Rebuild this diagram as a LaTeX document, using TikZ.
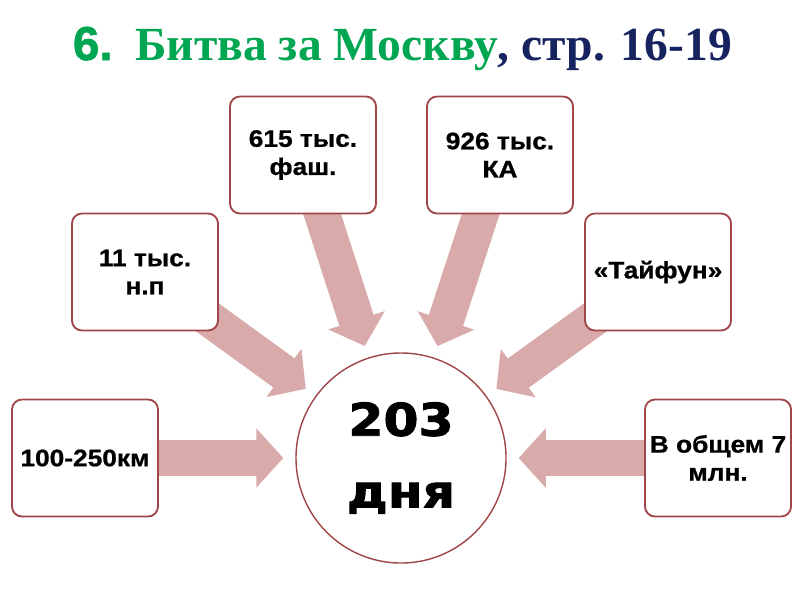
\documentclass[tikz,border=0pt]{standalone}
\usepackage{fontspec}
\setmainfont{Liberation Serif}
\newfontfamily\boxfont[FakeStretch=1.1,FakeBold=0.8]{Liberation Sans}
\newfontfamily\daysfont[FakeStretch=1.12,FakeBold=2]{DejaVu Sans}
\newfontfamily\numfont[FakeBold=1.5]{Liberation Sans}
\usetikzlibrary{arrows.meta,backgrounds}
\definecolor{boxred}{RGB}{160,70,72}
\definecolor{arrowpink}{RGB}{217,170,170}
\definecolor{titlegreen}{RGB}{0,166,81}
\definecolor{titlenavy}{RGB}{23,35,94}

\begin{document}
\begin{tikzpicture}[x=0.025cm, y=-0.025cm,
  box/.style={draw=boxred, line width=1.3pt, rounded corners=0.25cm, fill=white,
              minimum width=3.65cm, minimum height=2.925cm, align=center,
              font=\boxfont\bfseries\fontsize{17}{20}\selectfont},
  days/.style={circle, draw=boxred, line width=1pt, fill=white, minimum size=5.25cm,
               align=center, font=\daysfont\bfseries\fontsize{32}{51}\selectfont},
  bigarrow/.style={line width=0.9cm, draw=arrowpink,
                   -{Triangle[length=0.675cm, width=1.45cm]}, shorten >=0.3cm}
]
\useasboundingbox (0,0) rectangle (800,600);

\node[anchor=base west, font=\bfseries\fontsize{33.8}{38}\selectfont] (title) at (68,60)
  {\textcolor{titlegreen}{{\numfont 6.}\hspace{5pt} Битва за Москву}\textcolor{titlenavy}{, стр. 16-19}};

\node[days] (center) at (401,458) {203\\дня};

\node[box] (km)      at (85,458)  {100-250км};
\node[box] (towns)   at (145,272) {11 тыс.\\н.п};
\node[box] (enemy)   at (303,155) {615 тыс.\\фаш.};
\node[box] (army)    at (500,155) {926 тыс.\\КА};
\node[box] (typhoon) at (658,272) {«Тайфун»};
\node[box] (total)   at (718,458) {В общем 7\\млн.};

\begin{scope}[on background layer]
  \foreach \src in {km,towns,enemy,army,typhoon,total}
    \draw[bigarrow] (\src.center) -- (center);
\end{scope}
\end{tikzpicture}
\end{document}
